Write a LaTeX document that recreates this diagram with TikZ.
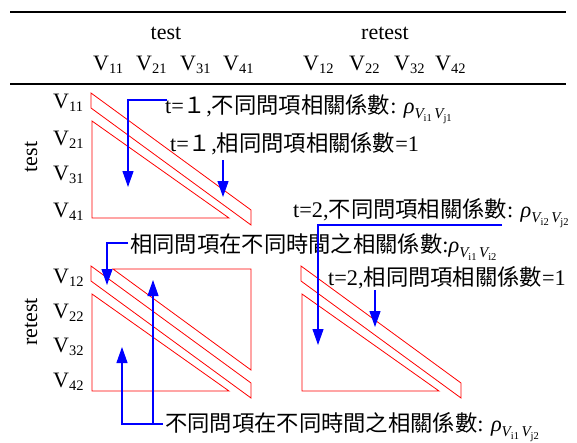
\documentclass[tikz,border=0pt]{standalone}
\usepackage{fontspec}
\setmainfont{Liberation Serif}
\newfontfamily\cjk{Noto Sans CJK TC}
\usetikzlibrary{arrows.meta}
\newcommand\myV[1]{V\raisebox{-3pt}{\fontsize{14.5}{14.5}\selectfont #1}}
\newcommand\rhosub[2]{{\itshape ρ}\raisebox{-5pt}{\fontsize{15}{15}\selectfont\itshape V\raisebox{-3pt}{\fontsize{10.5}{10.5}\selectfont\upshape #1}\,V\raisebox{-3pt}{\fontsize{10.5}{10.5}\selectfont\upshape #2}}}
\begin{document}
\begin{tikzpicture}[x=1pt,y=-1pt,
  lbl/.style={inner sep=0pt, font=\fontsize{22.3}{24}\selectfont, anchor=base west},
  vlbl/.style={inner sep=0pt, font=\fontsize{22}{24}\selectfont, anchor=base west},
  hdr/.style={inner sep=0pt, font=\fontsize{22}{24}\selectfont, anchor=base},
  rot/.style={inner sep=0pt, font=\fontsize{22}{24}\selectfont, rotate=90},
  redln/.style={draw=red, line width=0.8pt},
  barrow/.style={draw=blue, line width=1.1pt, -{Triangle[length=16pt,width=11pt]}}]
\useasboundingbox (0,0) rectangle (577,442);
% rules
\draw[line width=1.5pt] (10,12) -- (566,12);
\draw[line width=1.2pt] (10,84) -- (566,84);
% headers
\node[hdr] (htest) at (166,39) {test};
\node[hdr] (hretest) at (385,39) {retest};
\node[vlbl] (c11) at (93,70) {\myV{11}};
\node[vlbl] (c21) at (136,70) {\myV{21}};
\node[vlbl] (c31) at (180,70) {\myV{31}};
\node[vlbl] (c41) at (223,70) {\myV{41}};
\node[vlbl] (c12) at (303,70) {\myV{12}};
\node[vlbl] (c22) at (349,70) {\myV{22}};
\node[vlbl] (c32) at (394,70) {\myV{32}};
\node[vlbl] (c42) at (435,70) {\myV{42}};
% row labels
\node[rot] (rtest) at (31,157) {test};
\node[rot] (rretest) at (31,322) {retest};
\node[vlbl] (r11) at (53,108) {\myV{11}};
\node[vlbl] (r21) at (53,145) {\myV{21}};
\node[vlbl] (r31) at (53,180) {\myV{31}};
\node[vlbl] (r41) at (53,217) {\myV{41}};
\node[vlbl] (r12) at (53,283) {\myV{12}};
\node[vlbl] (r22) at (53,318) {\myV{22}};
\node[vlbl] (r32) at (53,352) {\myV{32}};
\node[vlbl] (r42) at (53,387) {\myV{42}};
% red blocks
\begin{scope}[shift={(91,93)}]
  \draw[redln] (0,0) -- (0,15) -- (160,132) -- (160,117) -- cycle;
  \draw[redln] (1,28) -- (1,125) -- (138,125) -- cycle;
\end{scope}
\begin{scope}[shift={(301,266)}]
  \draw[redln] (0,0) -- (0,15) -- (160,132) -- (160,117) -- cycle;
  \draw[redln] (1,28) -- (1,125) -- (138,125) -- cycle;
\end{scope}
\begin{scope}[shift={(91,266)}]
  \draw[redln] (0,0) -- (0,15) -- (160,132) -- (160,117) -- cycle;
  \draw[redln] (1,28) -- (1,125) -- (138,125) -- cycle;
  \draw[redln] (22,3) -- (160,3) -- (160,104) -- cycle;
\end{scope}
% texts
\node[lbl] (t1a) at (165,113) {t={\cjk １},{\cjk 不同問項相關係數}: \rhosub{i1}{j1}};
\node[lbl] (t1b) at (170,151) {t={\cjk １},{\cjk 相同問項相關係數}=1};
\node[lbl] (t2a) at (293,217) {t=2,{\cjk 不同問項相關係數}: \rhosub{i2}{j2}};
\node[lbl] (c1) at (130,252) {{\cjk 相同問項在不同時間之相關係數}:\rhosub{i1}{i2}};
\node[lbl] (t2b) at (328,285) {t=2,{\cjk 相同問項相關係數}=1};
\node[lbl] (c2) at (165,431) {{\cjk 不同問項在不同時間之相關係數}: \rhosub{i1}{j2}};
% arrows
\coordinate (p1) at (167,100); \coordinate (q1) at (128,187);
\draw[barrow] (p1) -| (q1);
\coordinate (p2) at (223,160); \coordinate (q2) at (223,197);
\draw[barrow] (p2) -- (q2);
\coordinate (p3) at (502,225); \coordinate (q3) at (318,345);
\draw[barrow] (p3) -| (q3);
\coordinate (p4) at (128,243); \coordinate (q4) at (107,285);
\draw[barrow] (p4) -| (q4);
\coordinate (p5) at (375,290); \coordinate (q5) at (375,327);
\draw[barrow] (p5) -- (q5);
\coordinate (p6) at (163,424); \coordinate (q6) at (122,347);
\draw[barrow] (p6) -| (q6);
\coordinate (p7) at (153,424); \coordinate (q7) at (153,280);
\draw[barrow] (p7) -- (q7);
\end{tikzpicture}
\end{document}
